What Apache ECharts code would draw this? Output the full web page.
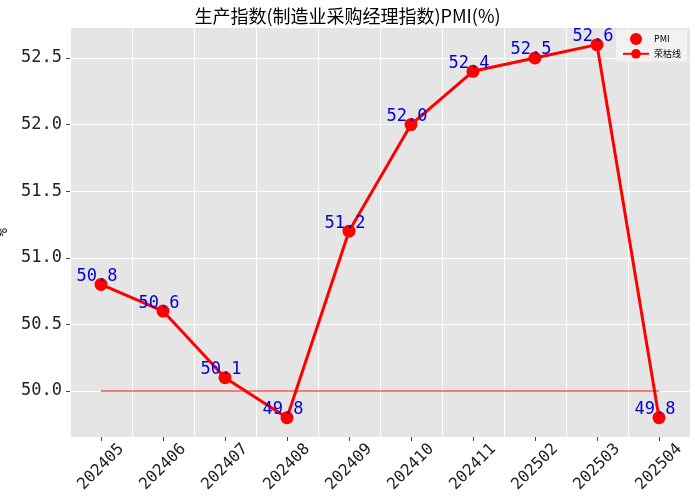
<!DOCTYPE html>
<html><head><meta charset="utf-8">
<script src="https://cdn.jsdelivr.net/npm/echarts@6/dist/echarts.min.js"></script>
<style>html,body{margin:0;padding:0;background:#fff}#c{width:695px;height:500px}</style>
</head><body><div id="c"></div>
<script>
const categories = ['202405','202406','202407','202408','202409','202410','202411','202502','202503','202504'];
const pmiValues = [50.8,50.6,50.1,49.8,51.2,52.0,52.4,52.5,52.6,49.8];
const boomLine = [50,50,50,50,50,50,50,50,50,50];
const yTicks = [50.0,50.5,51.0,51.5,52.0,52.5];
const mono = 'DejaVu Sans Mono';
const chart = echarts.init(document.getElementById('c'));
chart.setOption({
  animation:false,
  backgroundColor:'#fff',
  title:{text:'生产指数(制造业采购经理指数)PMI(%)',left:'center',top:2,
    textStyle:{fontFamily:'Noto Sans CJK SC',fontSize:18,fontWeight:'normal',color:'#000'}},
  legend:{right:8,top:30,orient:'vertical',itemWidth:26,itemHeight:12,itemGap:4,
    backgroundColor:'#f2f2f2',padding:[3,6],
    textStyle:{fontFamily:'Noto Sans CJK SC',fontSize:9,color:'#000'},
    data:[{name:'PMI',icon:'circle'},{name:'荣枯线'}]},
  grid:{left:70,right:5,top:28,bottom:63,backgroundColor:'#e5e5e5',show:true,borderWidth:0,
    containLabel:false,outerBoundsMode:'none'},
  xAxis:{type:'category',data:categories,boundaryGap:true,
    axisLine:{show:false},axisTick:{show:true,length:4,lineStyle:{color:'#444'},alignWithLabel:true},
    axisLabel:{rotate:45,fontFamily:mono,fontSize:16,color:'#222',margin:30,align:'center',verticalAlign:'middle'},
    splitLine:{show:true,lineStyle:{color:'#fff',width:1}}},
  yAxis:{type:'value',min:49.655,max:52.725,interval:0.5,name:'%',nameLocation:'middle',nameGap:58,
    nameTextStyle:{fontFamily:mono,fontSize:15,color:'#222'},
    axisLine:{show:false},
    axisLabel:{fontFamily:mono,fontSize:17,color:'#222',
      customValues:yTicks,formatter:v=>v.toFixed(1)},
    axisTick:{customValues:yTicks,show:true,length:4,lineStyle:{color:'#444'}},
    splitLine:{show:true,lineStyle:{color:'#fff',width:1}}},
  series:[
    {name:'PMI',type:'line',data:pmiValues,color:'red',symbol:'circle',symbolSize:13,
     lineStyle:{width:3,color:'red'},itemStyle:{color:'red'},z:3,
     label:{show:true,position:'top',offset:[-4,12],fontFamily:mono,fontSize:17,color:'#0000dd',
       formatter:p=>p.value.toFixed(1)}},
    {name:'荣枯线',type:'line',data:boomLine,color:'red',symbol:'none',showSymbol:false,
     lineStyle:{width:1,color:'red'},z:2}
  ]
});
</script></body></html>
